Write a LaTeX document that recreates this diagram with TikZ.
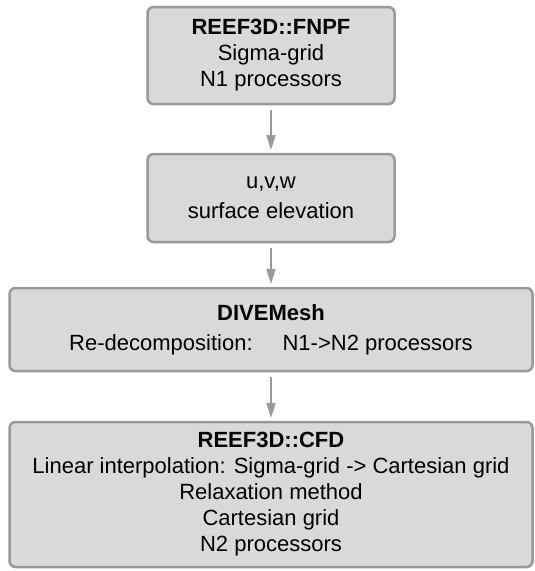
\documentclass[tikz,border=0pt]{standalone}
\usepackage{fontspec}
\setmainfont{Liberation Sans}
\usepackage{tikz}
\usetikzlibrary{arrows.meta, positioning}

\definecolor{boxfill}{HTML}{D9D9D9}
\definecolor{boxline}{HTML}{999999}

\tikzset{
    block/.style = {draw=boxline, fill=boxfill, line width=2.5pt, rounded corners=6pt,
                    align=center, inner sep=0pt, outer sep=0pt,
                    font=\fontsize{22}{26}\selectfont},
    flow/.style  = {-{Triangle[length=15pt, width=9pt]}, draw=boxline, line width=2pt,
                    shorten <=6pt, shorten >=4pt}
}

\begin{document}
\begin{tikzpicture} [x=1pt, y=1pt]
        \useasboundingbox (0,0) rectangle (535,-571);

        \node (fnpf) [block, minimum width=247pt, minimum height=97pt] at (271,-55.5)
            {\textbf{REEF3D::FNPF}\\Sigma-grid\\N1 processors};
        \node (uvw) [block, minimum width=247pt, minimum height=88pt, below = 50pt of fnpf]
            {u,v,w\\[4pt]surface elevation};
        \node (dive) [block, minimum width=523pt, minimum height=83pt, below = 46pt of uvw]
            {\textbf{DIVEMesh}\\[4pt]Re-decomposition:\hspace{30pt}N1->N2 processors};
        \node (cfd) [block, minimum width=523pt, minimum height=145pt, below = 51pt of dive]
            {\textbf{REEF3D::CFD}\\Linear interpolation: Sigma-grid -> Cartesian grid\\
             Relaxation method\\Cartesian grid\\N2 processors};

        \draw [flow] (fnpf) -- (uvw);
        \draw [flow] (uvw) -- (dive);
        \draw [flow] (dive) -- (cfd);
    \end{tikzpicture}
\end{document}
